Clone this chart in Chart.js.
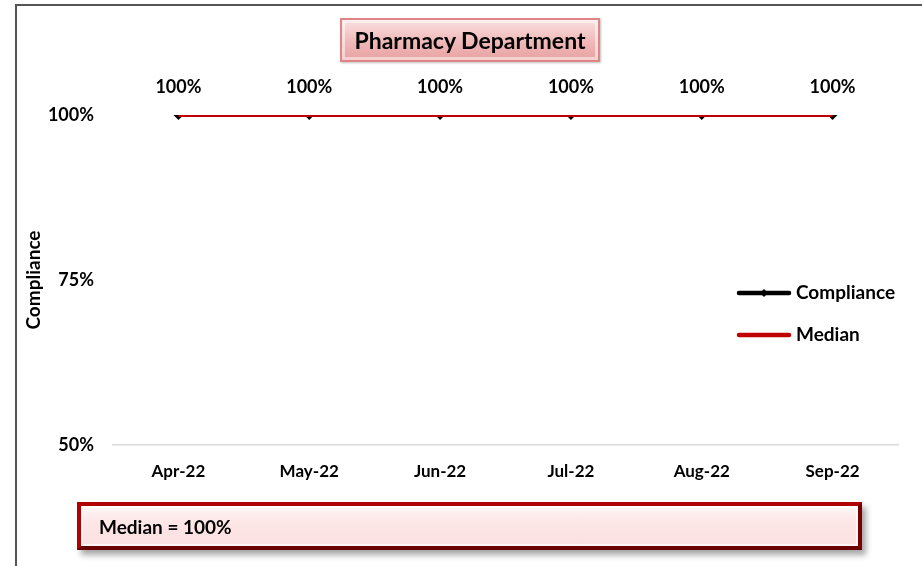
<!DOCTYPE html>
<html>
<head>
<meta charset="utf-8">
<script src="https://cdn.jsdelivr.net/npm/chart.js@4/dist/chart.umd.min.js"></script>
<style>
  html, body { margin: 0; padding: 0; background: #fff; }
  #wrap { position: relative; width: 922px; height: 566px; overflow: hidden; font-family: Lato, "Open Sans", sans-serif; }
  #frameTop { position: absolute; left: 15px; top: 4px; width: 920px; height: 2px; background: #555; }
  #frameLeft { position: absolute; left: 15px; top: 4px; width: 2px; height: 570px; background: #555; }
  canvas { position: absolute; left: 0; top: 0; }
  #titleBox {
    position: absolute; left: 340px; top: 18px; width: 260px; height: 44px; box-sizing: border-box;
    border: 2px solid #e08585;
    background: linear-gradient(#fbe0e0, #f0b8b8 55%, #e8a2a2);
    box-shadow: inset 0 0 0 3px rgba(255,255,255,0.5), 1px 1px 2px rgba(0,0,0,0.25);
    display: flex; align-items: center; justify-content: center;
    font-weight: bold; font-size: 23px; color: #000; font-family: Lato, "Open Sans", sans-serif;
  }
  #medianBox {
    position: absolute; left: 77px; top: 502px; width: 785px; height: 48px; box-sizing: border-box;
    border: 4px solid #b00000;
    border-bottom-color: #6a0000; border-right-color: #7a0000;
    background: linear-gradient(#fff7f7, #fde6e6 40%, #fbe0e0);
    box-shadow: inset 0 0 0 2px rgba(255,255,255,0.7), 4px 5px 6px rgba(0,0,0,0.35);
    display: flex; align-items: center; padding-left: 18px;
    font-weight: bold; font-size: 19px; color: #000; font-family: Lato, "Open Sans", sans-serif;
  }
</style>
</head>
<body>
<div id="wrap">
  <div id="frameTop"></div>
  <div id="frameLeft"></div>
  <canvas id="c" width="922" height="566"></canvas>
  <div id="titleBox">Pharmacy Department</div>
  <div id="medianBox">Median = 100%</div>
</div>
<script>
const months = ["Apr-22", "May-22", "Jun-22", "Jul-22", "Aug-22", "Sep-22"];
const compliance = [100, 100, 100, 100, 100, 100];
const median = [100, 100, 100, 100, 100, 100];
const yTicks = [50, 75, 100];
const FONT = 'Lato, "Open Sans", sans-serif';

const labelPlugin = {
  id: 'labels',
  afterDatasetsDraw(chart) {
    const ctx = chart.ctx;
    const meta = chart.getDatasetMeta(0);
    ctx.save();
    ctx.font = 'bold 18px ' + FONT;
    ctx.fillStyle = '#000';
    ctx.textAlign = 'center';
    ctx.textBaseline = 'middle';
    meta.data.forEach((pt, i) => {
      ctx.fillText(compliance[i] + '%', pt.x, pt.y - 28);
    });
    ctx.restore();
  }
};

const legendPlugin = {
  id: 'customLegend',
  afterDraw(chart) {
    const ctx = chart.ctx;
    const items = [
      { ds: chart.data.datasets[0], y: 293, marker: true },
      { ds: chart.data.datasets[1], y: 335, marker: false }
    ];
    ctx.save();
    items.forEach(it => {
      ctx.strokeStyle = it.ds.borderColor;
      ctx.lineWidth = 4.5;
      ctx.lineCap = 'round';
      ctx.beginPath();
      ctx.moveTo(739, it.y);
      ctx.lineTo(789, it.y);
      ctx.stroke();
      if (it.marker) {
        ctx.fillStyle = '#000';
        ctx.beginPath();
        ctx.moveTo(764, it.y - 4); ctx.lineTo(768, it.y); ctx.lineTo(764, it.y + 4); ctx.lineTo(760, it.y);
        ctx.closePath(); ctx.fill();
      }
      ctx.fillStyle = '#000';
      ctx.font = 'bold 19px ' + FONT;
      ctx.textAlign = 'left';
      ctx.textBaseline = 'middle';
      ctx.fillText(it.ds.label, 796, it.y);
    });
    ctx.restore();
  }
};

new Chart(document.getElementById('c'), {
  type: 'line',
  data: {
    labels: months,
    datasets: [
      {
        label: 'Compliance', data: compliance, borderColor: '#000', backgroundColor: '#000',
        borderWidth: 2, pointStyle: 'rectRot', pointRadius: 5, pointBackgroundColor: '#000',
        pointBorderWidth: 0, order: 2
      },
      {
        label: 'Median', data: median, borderColor: '#c00000', backgroundColor: '#c00000',
        borderWidth: 4, pointRadius: 0, order: 1
      }
    ]
  },
  options: {
    responsive: false, animation: false,
    layout: { padding: { top: 115, left: 0, right: 24, bottom: 0 } },
    plugins: { legend: { display: false }, tooltip: { enabled: false }, title: { display: false } },
    scales: {
      x: {
        offset: true,
        grid: { display: false, drawTicks: false },
        border: { display: true, color: '#d9d9d9', width: 1.5 },
        ticks: { color: '#000', font: { family: FONT, size: 17, weight: 'bold' }, padding: 16 },
        afterFit(s) { s.height = 121; }
      },
      y: {
        min: 50, max: 100,
        afterBuildTicks(s) { s.ticks = yTicks.map(v => ({ value: v })); },
        grid: { display: false, drawTicks: false },
        border: { display: false },
        ticks: { color: '#000', font: { family: FONT, size: 18, weight: 'bold' }, padding: 19,
                 callback: v => v + '%' },
        title: { display: true, text: 'Compliance', color: '#000',
                 font: { family: FONT, size: 19, weight: 'bold' }, padding: { top: 22, bottom: 0 } },
        afterFit(s) { s.width = 113; }
      }
    }
  },
  plugins: [labelPlugin, legendPlugin]
});
</script>
</body>
</html>
